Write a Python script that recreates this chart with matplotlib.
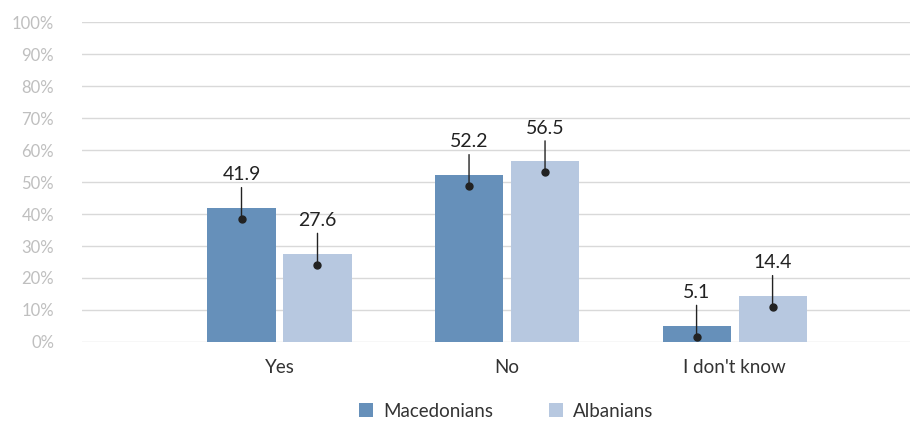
import matplotlib.pyplot as plt
from matplotlib.transforms import offset_copy
import numpy as np

plt.rcParams['font.family'] = ['Lato', 'DejaVu Sans']

categories = ['Yes', 'No', "I don't know"]
macedonians = [41.9, 52.2, 5.1]
albanians = [27.6, 56.5, 14.4]
series_names = ['Macedonians', 'Albanians']
colors = ['#6690BA', '#B7C8E0']

fig = plt.figure(figsize=(9.22, 4.22), dpi=100)
ax = fig.add_axes([82 / 922, 1 - 342 / 422, 828 / 922, 320 / 422])

x = np.arange(len(categories))
width = 0.299
offset = 0.167

# dot sits a little below the top of each bar
dot_tr = offset_copy(ax.transData, fig=fig, x=0, y=-11, units='dots')

for vals, name, col, sign in zip([macedonians, albanians], series_names, colors, [-1, 1]):
    xs = x + sign * offset
    ax.bar(xs, vals, width, color=col, label=name, zorder=2)
    for xi, v in zip(xs, vals):
        ax.plot(xi, v, 'o', color='#222222', ms=5, transform=dot_tr, zorder=4)
        ax.annotate(f'{v:.1f}', xy=(xi, v), xycoords=dot_tr,
                    xytext=(0, 44), textcoords='offset pixels',
                    ha='center', va='center', fontsize=14, color='#222222',
                    arrowprops=dict(arrowstyle='-', color='#222222', lw=1,
                                    shrinkA=1.0, shrinkB=0),
                    zorder=4)

ax.set_ylim(0, 100)
ax.set_xlim(-0.868, 2.771)
ax.set_yticks(np.arange(0, 101, 10))
ax.set_yticklabels([f'{t}%' for t in range(0, 101, 10)])
ax.set_xticks(x)
ax.set_xticklabels(categories)
ax.tick_params(axis='y', length=0, pad=20, labelsize=12, labelcolor='#BFBFBF')
ax.tick_params(axis='x', length=0, pad=12, labelsize=13.5, labelcolor='#333333')
ax.grid(axis='y', color='#D9D9D9', lw=1, zorder=0)
for s in ax.spines.values():
    s.set_visible(False)

fig.legend(loc='center', bbox_to_anchor=(0.549, 0.026), ncol=2, frameon=False,
           fontsize=13.5, handlelength=0.75, handleheight=0.75, columnspacing=3.0,
           handletextpad=0.5, labelcolor='#333333')

plt.savefig('out.png', dpi=100)
